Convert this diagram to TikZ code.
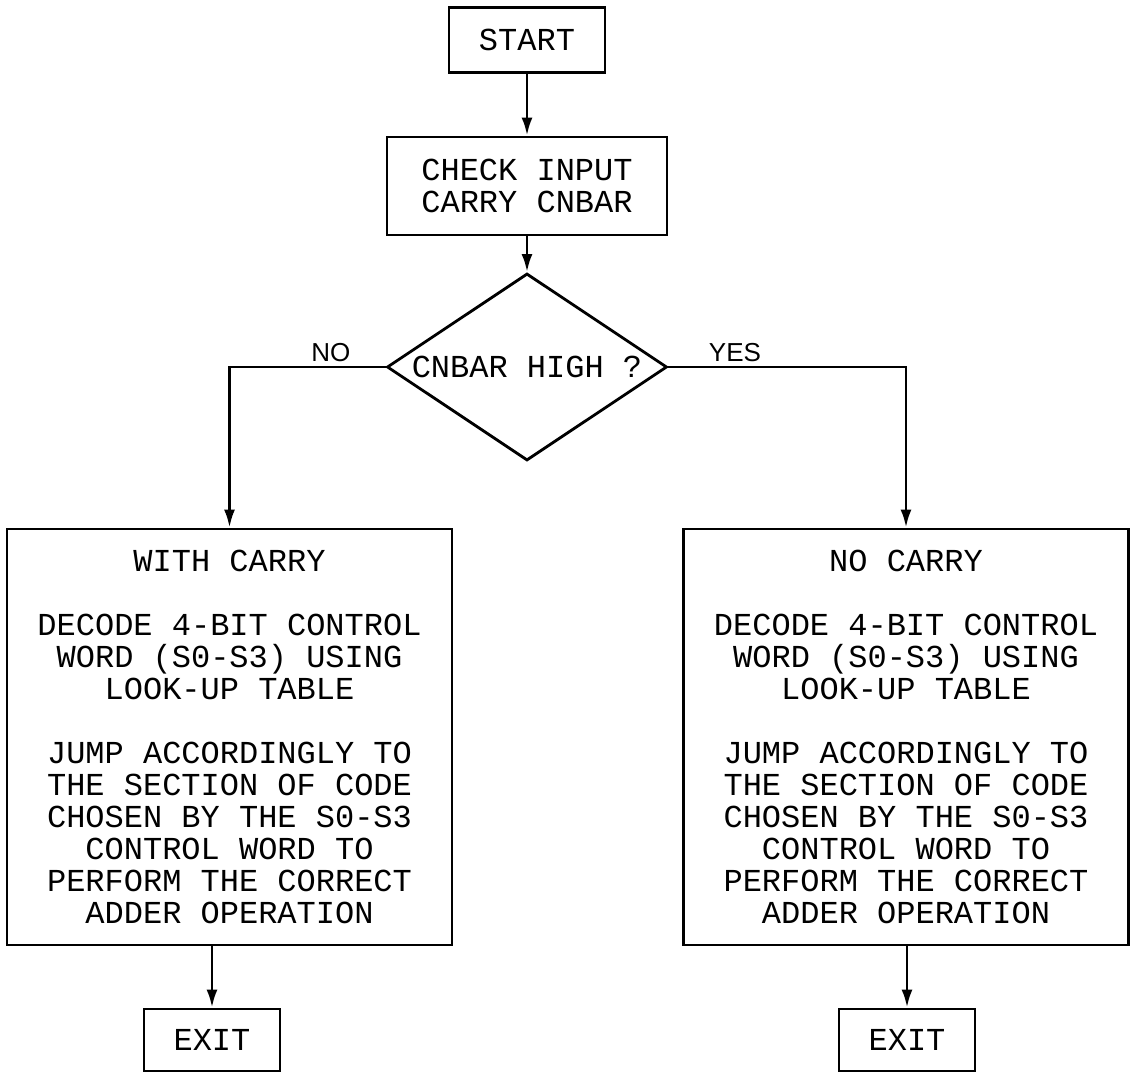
\documentclass[tikz,border=0pt]{standalone}
\usepackage{fontspec}
\setmonofont{Liberation Mono}
\setsansfont{Liberation Sans}
\usetikzlibrary{positioning}
\usetikzlibrary{shapes.geometric}
\usetikzlibrary{arrows.meta}

\begin{document}
\begin{tikzpicture}[
    x=0.5pt, y=-0.5pt,
    arrow/.style={-{Latex[length=9pt,width=5.5pt]}, line width=1.4pt},
    stepbox/.style={draw, line width=1.4pt, align=center, inner sep=0pt,
        font=\ttfamily\fontsize{16}{16}\selectfont},
    decision/.style={stepbox, diamond, aspect=1.5},
    answer/.style={font=\sffamily\fontsize{13}{13}\selectfont, inner sep=2pt}
]
    \useasboundingbox (0,0) rectangle (1130,1074);

    % Entry and test
    \node[stepbox, minimum width=78pt, minimum height=32.5pt] (start) at (527,40) {START};
    \node[stepbox, minimum width=140pt, minimum height=49pt] (check) at (527,186) {CHECK INPUT\\CARRY CNBAR};
    \node[decision, minimum width=140pt, minimum height=93.5pt] (high) at (527,367) {CNBAR HIGH ?};

    % Two branches
    \node[stepbox, minimum width=222.5pt, minimum height=208pt] (carry) at (229.5,737) {
        WITH CARRY\\[16pt]
        DECODE 4-BIT CONTROL\\WORD (S0-S3) USING\\LOOK-UP TABLE\\[16pt]
        JUMP ACCORDINGLY TO\\THE SECTION OF CODE\\CHOSEN BY THE S0-S3\\
        CONTROL WORD TO\\PERFORM THE CORRECT\\ADDER OPERATION
    };
    \node[stepbox, minimum width=222.5pt, minimum height=208pt] (nocarry) at (906,737) {
        NO CARRY\\[16pt]
        DECODE 4-BIT CONTROL\\WORD (S0-S3) USING\\LOOK-UP TABLE\\[16pt]
        JUMP ACCORDINGLY TO\\THE SECTION OF CODE\\CHOSEN BY THE S0-S3\\
        CONTROL WORD TO\\PERFORM THE CORRECT\\ADDER OPERATION
    };

    % Exits
    \node[stepbox, minimum width=68pt, minimum height=31pt] (exitA) at (212,1040) {EXIT};
    \node[stepbox, minimum width=68pt, minimum height=31pt] (exitB) at (907,1040) {EXIT};

    % Flow
    \draw[arrow] (start) -- (check);
    \draw[arrow] (check) -- (high);
    \draw[arrow] (high.west) -| node[answer, above, pos=0.175] {NO} (carry.north);
    \draw[arrow] (high.east) -| node[answer, above, pos=0.14] {YES} (nocarry.north);
    \draw[arrow] (carry.south -| exitA.north) -- (exitA.north);
    \draw[arrow] (nocarry.south -| exitB.north) -- (exitB.north);
\end{tikzpicture}
\end{document}
